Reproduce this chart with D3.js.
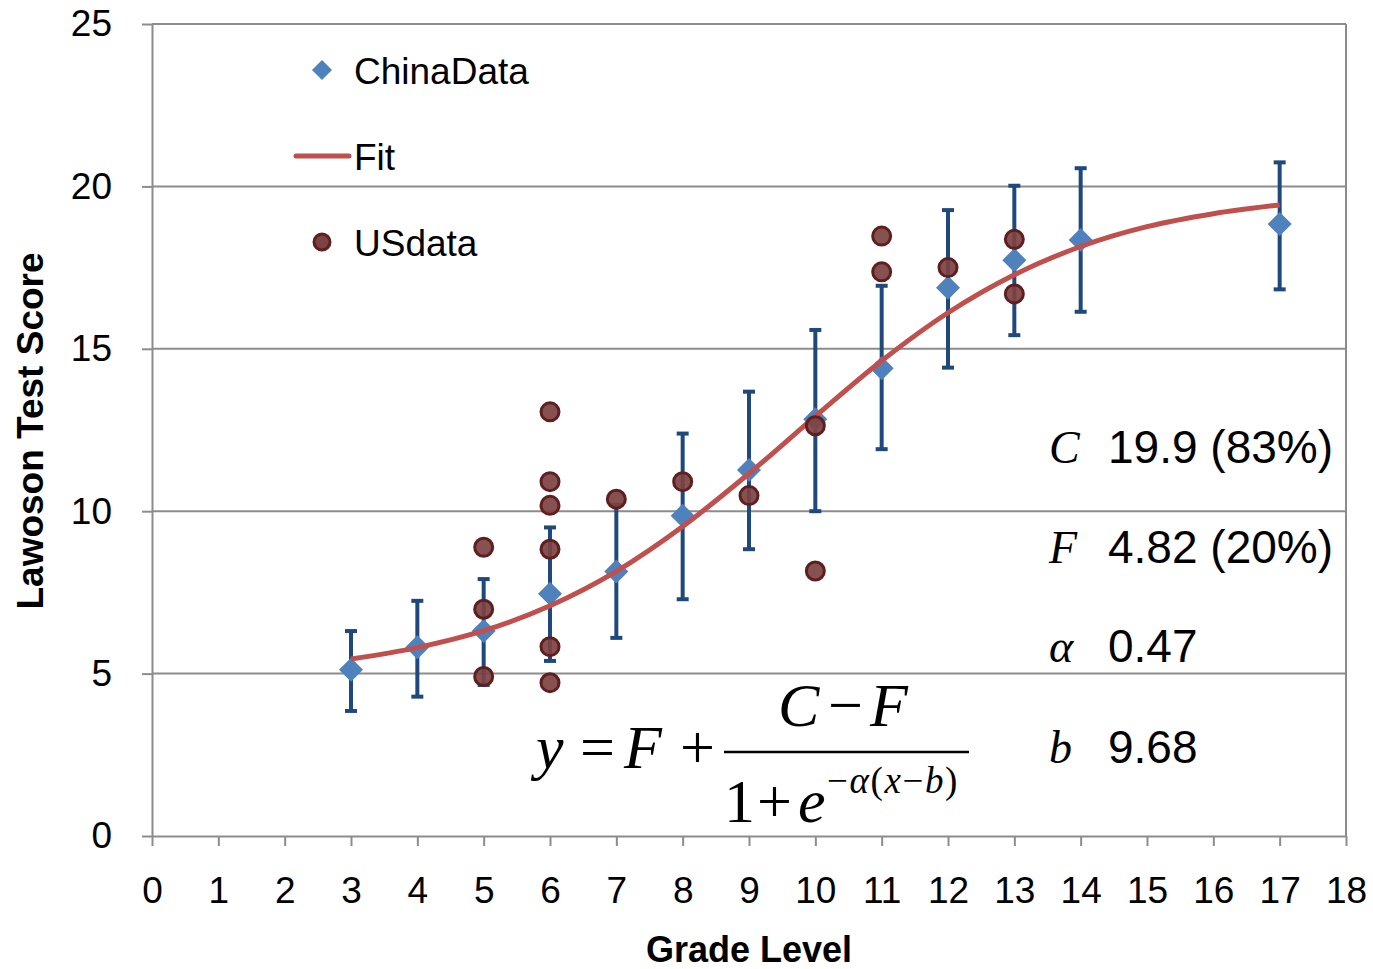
<!DOCTYPE html>
<html>
<head>
<meta charset="utf-8">
<script src="https://cdn.jsdelivr.net/npm/d3@7"></script>
<style>
  body { margin: 0; background: #fff; }
  text { font-family: Arial, "Liberation Sans", sans-serif; }
  .serif { font-family: "Times New Roman", "Liberation Serif", serif; }
</style>
</head>
<body>
<div id="chart"></div>
<script>
// china data: grade, mean, top of error bar, bottom of error bar
const chinaGrades = [3, 4, 5, 6, 7, 8, 9, 10, 11, 12, 13, 14, 17];
const chinaMean   = [5.12, 5.81, 6.31, 7.46, 8.14, 9.86, 11.27, 12.83, 14.40, 16.88, 17.73, 18.35, 18.84];
const chinaHigh   = [6.31, 7.24, 7.91, 9.50, 10.19, 12.39, 13.68, 15.58, 16.94, 19.27, 20.02, 20.56, 20.74];
const chinaLow    = [3.85, 4.29, 4.65, 5.39, 6.10, 7.29, 8.83, 10.00, 11.91, 14.42, 15.42, 16.14, 16.83];

// US data points
const usGrades = [5, 5, 5, 6, 6, 6, 6, 6, 6, 7, 8, 9, 10, 10, 11, 11, 12, 13, 13];
const usScores = [8.89, 6.98, 4.91, 13.06, 10.91, 10.18, 8.83, 5.83, 4.72, 10.37, 10.91, 10.48, 12.63, 8.16, 18.47, 17.37, 17.50, 18.37, 16.69];

// fit line at each grade
const fitGrades = [3, 4, 5, 6, 7, 8, 9, 10, 11, 12, 13, 14, 15, 16, 17];
const fitValues = [5.45, 5.80, 6.32, 7.09, 8.15, 9.53, 11.16, 12.92, 14.63, 16.11, 17.28, 18.15, 18.76, 19.16, 19.43];

// ticks
const xTicks = d3.range(0, 19);
const yTicks = [0, 5, 10, 15, 20, 25];

// fit parameters table
const paramNames  = ["C", "F", "α", "b"];
const paramValues = ["19.9 (83%)", "4.82 (20%)", "0.47", "9.68"];

(function () {

const W = 1373, H = 969;
const margin = {top: 24, right: 27, bottom: 133, left: 152};
const width = W - margin.left - margin.right,
      height = H - margin.top - margin.bottom;

const svg = d3.select("#chart").append("svg")
    .attr("width", W)
    .attr("height", H);

const g = svg.append("g")
    .attr("transform", "translate(" + margin.left + "," + margin.top + ")");

const x = d3.scaleLinear().domain([0, 18]).range([0, width]);
const y = d3.scaleLinear().domain([0, 25]).range([height, 0]);

const grey = "#8c8c8c";

// horizontal gridlines
g.append("g")
  .selectAll("line")
  .data(yTicks.filter(d => d > 0))
  .join("line")
    .attr("x1", 0).attr("x2", width)
    .attr("y1", d => y(d)).attr("y2", d => y(d))
    .attr("stroke", grey).attr("stroke-width", 2);

// right border
g.append("line")
    .attr("x1", width).attr("x2", width)
    .attr("y1", 0).attr("y2", height)
    .attr("stroke", grey).attr("stroke-width", 2);

// x axis
g.append("g")
    .attr("transform", `translate(0,${height})`)
    .call(d3.axisBottom(x).tickValues(xTicks).tickSize(10).tickPadding(31).tickSizeOuter(0))
    .call(a => a.select(".domain").attr("stroke", grey).attr("stroke-width", 2))
    .call(a => a.selectAll(".tick line").attr("stroke", grey).attr("stroke-width", 2))
    .call(a => a.selectAll("text").attr("font-size", 37).attr("fill", "#000")
        .attr("font-family", "Arial, 'Liberation Sans', sans-serif"));

// y axis
g.append("g")
    .call(d3.axisLeft(y).tickValues(yTicks).tickSize(10).tickPadding(30).tickSizeOuter(0))
    .call(a => a.select(".domain").attr("stroke", grey).attr("stroke-width", 2))
    .call(a => a.selectAll(".tick line").attr("stroke", grey).attr("stroke-width", 2))
    .call(a => a.selectAll("text").attr("font-size", 37).attr("fill", "#000")
        .attr("font-family", "Arial, 'Liberation Sans', sans-serif"));

// axis titles
svg.append("text")
    .attr("x", margin.left + width / 2)
    .attr("y", 962)
    .attr("text-anchor", "middle")
    .attr("font-size", 36).attr("font-weight", "bold")
    .text("Grade Level");

svg.append("text")
    .attr("transform", "translate(43," + 431 + ") rotate(-90)")
    .attr("text-anchor", "middle")
    .attr("font-size", 37).attr("font-weight", "bold")
    .text("Lawoson Test Score");

// china data as objects
const china = chinaGrades.map((gr, i) => ({grade: gr, mean: chinaMean[i], hi: chinaHigh[i], lo: chinaLow[i]}));
const us = usGrades.map((gr, i) => ({grade: gr, score: usScores[i]}));
const fit = fitGrades.map((gr, i) => ({grade: gr, value: fitValues[i]}));

const barColor = "#1f497d";
const cap = 6;

// error bars
const eb = g.append("g").attr("stroke", barColor).attr("stroke-width", 4);
eb.selectAll(".stem").data(china).join("line")
    .attr("x1", d => x(d.grade)).attr("x2", d => x(d.grade))
    .attr("y1", d => y(d.hi)).attr("y2", d => y(d.lo));
eb.selectAll(".capHi").data(china).join("line")
    .attr("x1", d => x(d.grade) - cap).attr("x2", d => x(d.grade) + cap)
    .attr("y1", d => y(d.hi)).attr("y2", d => y(d.hi));
eb.selectAll(".capLo").data(china).join("line")
    .attr("x1", d => x(d.grade) - cap).attr("x2", d => x(d.grade) + cap)
    .attr("y1", d => y(d.lo)).attr("y2", d => y(d.lo));

// diamonds
const diamond = r => `M0,${-r}L${r},0L0,${r}L${-r},0Z`;
g.append("g").selectAll("path").data(china).join("path")
    .attr("d", diamond(12))
    .attr("transform", d => `translate(${x(d.grade)},${y(d.mean)})`)
    .attr("fill", "#4f81bd");

// fit curve
const line = d3.line()
    .x(d => x(d.grade))
    .y(d => y(d.value))
    .curve(d3.curveMonotoneX);

g.append("path")
    .datum(fit)
    .attr("d", line)
    .attr("fill", "none")
    .attr("stroke", "#c0504d")
    .attr("stroke-width", 5);

// US circles
g.append("g").selectAll("circle").data(us).join("circle")
    .attr("cx", d => x(d.grade))
    .attr("cy", d => y(d.score))
    .attr("r", 9)
    .attr("fill", "#7d4242")
    .attr("fill-opacity", 0.92)
    .attr("stroke", "#5e1f1f")
    .attr("stroke-width", 3);

// legend
const leg = svg.append("g");
leg.append("path").attr("d", diamond(10)).attr("transform", "translate(322,70)").attr("fill", "#4f81bd");
leg.append("line").attr("x1", 296).attr("x2", 349).attr("y1", 156).attr("y2", 156)
    .attr("stroke", "#c0504d").attr("stroke-width", 5).attr("stroke-linecap", "round");
leg.append("circle").attr("cx", 322).attr("cy", 242).attr("r", 8)
    .attr("fill", "#7d4242").attr("stroke", "#5e1f1f").attr("stroke-width", 3);
leg.selectAll("text").data(["ChinaData", "Fit", "USdata"]).join("text")
    .attr("x", 354)
    .attr("y", (d, i) => 84 + i * 86)
    .attr("font-size", 37)
    .text(d => d);

// parameter table
const pt = svg.append("g");
pt.selectAll(".pname").data(paramNames).join("text")
    .attr("class", "serif pname")
    .attr("x", 1049)
    .attr("y", (d, i) => [463, 563, 662, 763][i])
    .attr("font-size", 46).attr("font-style", "italic")
    .text(d => d);
pt.selectAll(".pval").data(paramValues).join("text")
    .attr("class", "pval")
    .attr("x", 1108)
    .attr("y", (d, i) => [463, 563, 662, 763][i])
    .attr("font-size", 46)
    .text(d => d);

// formula
const f = svg.append("g").attr("class", "serif");
const it = (t, px, py, fs) => f.append("text").attr("class", "serif").attr("x", px).attr("y", py)
    .attr("font-size", fs).attr("font-style", "italic").text(t);
const up = (t, px, py, fs) => f.append("text").attr("class", "serif").attr("x", px).attr("y", py)
    .attr("font-size", fs).text(t);

it("y", 536, 768, 62);
up("=", 580, 768, 62);
it("F", 624, 768, 62);
up("+", 680, 768, 62);
f.append("line").attr("x1", 724).attr("x2", 969).attr("y1", 752).attr("y2", 752)
    .attr("stroke", "#000").attr("stroke-width", 2.5);
it("C", 778, 726, 62);
up("−", 828, 726, 62);
it("F", 870, 726, 62);
up("1", 724, 822, 62);
up("+", 757, 822, 62);
it("e", 798, 822, 62);
const sup = f.append("text").attr("class", "serif").attr("x", 827).attr("y", 793)
    .attr("font-size", 37).attr("letter-spacing", 1.6);
sup.append("tspan").text("−");
sup.append("tspan").attr("font-style", "italic").text("α");
sup.append("tspan").text("(");
sup.append("tspan").attr("font-style", "italic").text("x");
sup.append("tspan").text("−");
sup.append("tspan").attr("font-style", "italic").text("b");
sup.append("tspan").text(")");

})()
</script>
</body>
</html>
